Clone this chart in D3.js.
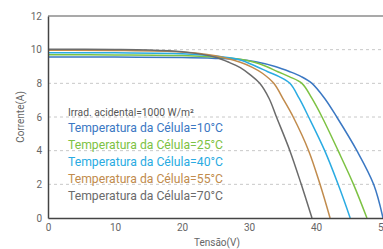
<!DOCTYPE html>
<html><head><meta charset="utf-8">
<script src="https://cdn.jsdelivr.net/npm/d3@7"></script>
<style>body{margin:0;background:#fff}svg{display:block}text{font-family:Roboto,"DejaVu Sans",sans-serif}</style>
</head><body><svg id="c" width="383" height="249"></svg>
<script>
const xTicks = [0, 10, 20, 30, 40, 50];
const yTicks = [0, 2, 4, 6, 8, 10, 12];
const gridValues = [2, 4, 6, 8, 10];
const seriesNames = ["Temperatura da Célula=10°C", "Temperatura da Célula=25°C", "Temperatura da Célula=40°C", "Temperatura da Célula=55°C", "Temperatura da Célula=70°C"];
const seriesColors = ["#3b78c3", "#7dc243", "#2aabe2", "#c18b4c", "#6b6b6b"];
const irradLabel = "Irrad. acidental=1000 W/m²";
const xTitle = "Tensão(V)";
const yTitle = "Corrente(A)";
// [voltage V, current A]
const t10 = [[0,9.57],[10,9.56],[20,9.53],[25,9.48],[28.7,9.41],[31,9.28],[33.9,9.0],[36.1,8.69],[37.8,8.4],[39.4,8.0],[41.3,7.1],[43.1,6.0],[46.1,4.0],[48.6,2.0],[50,0]];
const t25 = [[0,9.70],[10,9.69],[20,9.65],[25,9.56],[28.7,9.43],[30.8,9.25],[32.6,9.0],[34.3,8.69],[36,8.4],[37.9,8.0],[39.4,7.1],[40.9,6.0],[43.3,4.0],[45.6,2.0],[47.6,0]];
const t40 = [[0,9.82],[10,9.81],[20,9.76],[25,9.62],[28.7,9.39],[31.1,9.0],[32.8,8.69],[34.5,8.4],[36.1,8.0],[37.5,7.1],[38.9,6.0],[41.3,4.0],[43.3,2.0],[45.1,0]];
const t55 = [[0,9.96],[10,9.95],[20,9.86],[24,9.7],[26,9.55],[28.7,9.25],[30.5,8.95],[32,8.6],[33.7,8.0],[35.2,7.0],[36.6,6.0],[38.9,4.0],[40.6,2.0],[42.1,0]];
const t70 = [[0,10.02],[10,10.01],[15,9.98],[20,9.88],[23,9.72],[25,9.55],[27,9.25],[28.7,8.93],[30.2,8.5],[31.6,8.0],[33,7.1],[34.1,6.0],[36.1,4.0],[37.8,2.0],[39.4,0]];
const seriesData = [t10, t25, t40, t55, t70];

const svg = d3.select("#c");
const x = d3.scaleLinear().domain([0, 50]).range([48, 383]);
const y = d3.scaleLinear().domain([0, 12]).range([218, 16]);

// grid
svg.append("g").selectAll("line").data(gridValues).join("line")
  .attr("x1", x(0)).attr("x2", x(50)).attr("y1", d => y(d)).attr("y2", d => y(d))
  .attr("stroke", "#c8c8c8").attr("stroke-width", 1).attr("stroke-dasharray", "3,3");
// top line
svg.append("line").attr("x1", x(0)).attr("x2", x(50)).attr("y1", y(12)).attr("y2", y(12))
  .attr("stroke", "#555").attr("stroke-width", 1.2);

// curves
const line = d3.line().x(d => x(d[0])).y(d => y(d[1])).curve(d3.curveCatmullRom.alpha(0.5));
svg.append("g").selectAll("path").data(seriesData).join("path")
  .attr("d", line).attr("fill", "none")
  .attr("stroke", (d, i) => seriesColors[i]).attr("stroke-width", 1.5);

// axes
const xAxis = svg.append("g").attr("transform", `translate(0,${y(0)})`)
  .call(d3.axisBottom(x).tickValues(xTicks).tickSize(0).tickPadding(6));
const yAxis = svg.append("g").attr("transform", `translate(${x(0)},0)`)
  .call(d3.axisLeft(y).tickValues(yTicks).tickSize(0).tickPadding(6));
[xAxis, yAxis].forEach(a => {
  a.select(".domain").attr("stroke", "#444").attr("stroke-width", 1.5);
  a.selectAll("text").attr("fill", "#666").style("font-size", "10px");
});

svg.append("text").attr("x", 217).attr("y", 246).attr("text-anchor", "middle")
  .attr("fill", "#666").style("font-size", "10px").text(xTitle);
svg.append("text").attr("transform", "translate(24,117) rotate(-90)").attr("text-anchor", "middle")
  .attr("fill", "#666").style("font-size", "10px").text(yTitle);

// legend
svg.append("text").attr("x", 68).attr("y", 116).attr("fill", "#555").style("font-size", "10.3px").text(irradLabel);
svg.append("g").selectAll("text").data(seriesNames).join("text")
  .attr("x", 68).attr("y", (d, i) => 132 + i * 17)
  .attr("fill", (d, i) => seriesColors[i]).style("font-size", "12.2px").text(d => d);
</script></body></html>
